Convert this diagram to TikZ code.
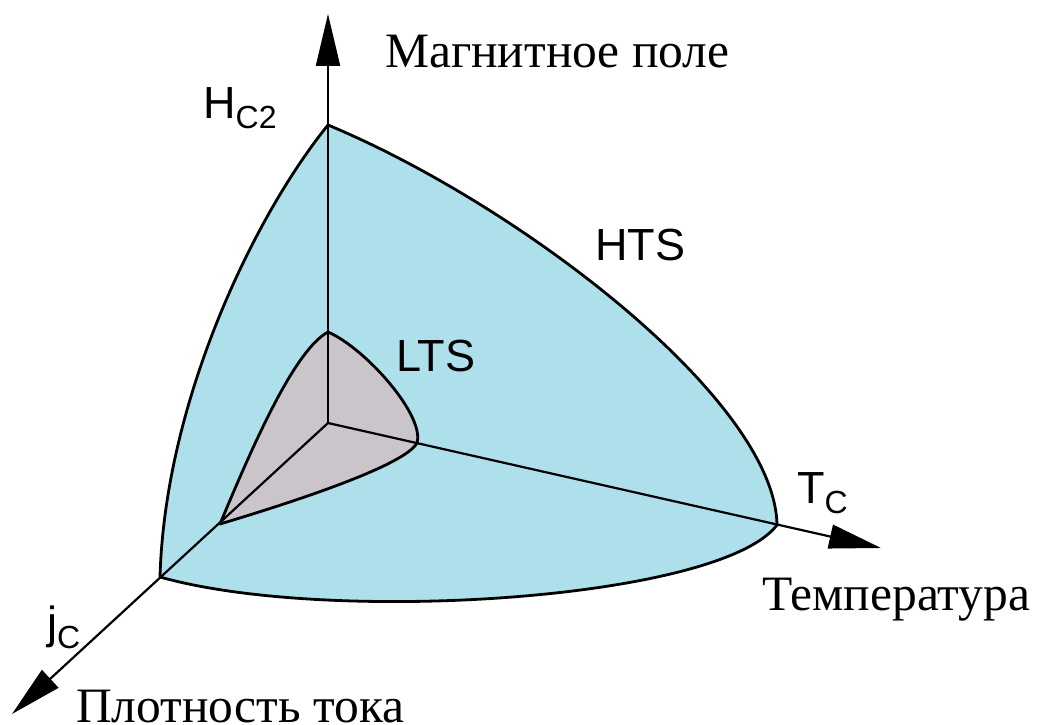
\documentclass[tikz,border=0pt]{standalone}
\usepackage{fontspec}
\setmainfont{Liberation Serif}
\newfontfamily\lsans{Liberation Sans}
\usetikzlibrary{arrows.meta}
\definecolor{htsblue}{RGB}{174,224,236}
\definecolor{ltsgrey}{RGB}{201,197,203}
\tikzset{
  axisline/.style={line width=2.2pt, -{Triangle[length=52pt,width=24pt]}},
  outline/.style={line width=2.8pt, line join=round},
  serlabel/.style={font=\fontsize{49.5}{58}\selectfont, anchor=base west, inner sep=0pt},
  sanlabel/.style={font=\lsans\fontsize{45}{52}\selectfont, anchor=base west, inner sep=0pt}
}
\newcommand{\subs}[1]{\raisebox{-10pt}{\fontsize{32}{36}\selectfont #1}}
\begin{document}
\begin{tikzpicture}[x=1pt,y=-1pt]
\useasboundingbox (0,0) rectangle (1039,725);
% key points
\coordinate (O) at (328,423);
\coordinate (H) at (328,125);
\coordinate (T) at (777,525);
\coordinate (J) at (160,577);
\coordinate (A) at (328,332);
\coordinate (R) at (417,443);
\coordinate (L) at (220,524);
\coordinate (Htip) at (328,14);
\coordinate (Ttip) at (881,548);
\coordinate (Jtip) at (12,714);
% HTS surface
\fill[htsblue] (H) .. controls (520,205) and (775,400) .. (T)
  .. controls (720,600) and (330,625) .. (J)
  .. controls (165,400) and (255,215) .. (H) -- cycle;
% LTS surface
\fill[ltsgrey] (A) .. controls (365,348) and (425,415) .. (R)
  .. controls (405,465) and (300,500) .. (L)
  .. controls (255,440) and (295,350) .. (A) -- cycle;
% outlines
\draw[outline] (H) .. controls (520,205) and (775,400) .. (T)
  .. controls (720,600) and (330,625) .. (J)
  .. controls (165,400) and (255,215) .. (H);
\draw[outline] (A) .. controls (365,348) and (425,415) .. (R)
  .. controls (405,465) and (300,500) .. (L)
  .. controls (255,440) and (295,350) .. (A) -- cycle;
% axes
\draw[axisline] (O) -- (Htip);
\draw[axisline] (O) -- (Ttip);
\draw[axisline] (O) -- (Jtip);
% labels
\node[serlabel] (mag) at (385,67) {Магнитное поле};
\node[serlabel] (temp) at (762,610) {Температура};
\node[serlabel] (plot) at (76,722) {Плотность тока};
\node[sanlabel] (hc2) at (203,118) {H\subs{C2}};
\node[sanlabel] (hts) at (595,260) {HTS};
\node[sanlabel] (lts) at (396,371) {LTS};
\node[sanlabel] (tc) at (797,503) {T\subs{C}};
\node[sanlabel] (jc) at (47,638) {j\subs{C}};
\end{tikzpicture}
\end{document}
